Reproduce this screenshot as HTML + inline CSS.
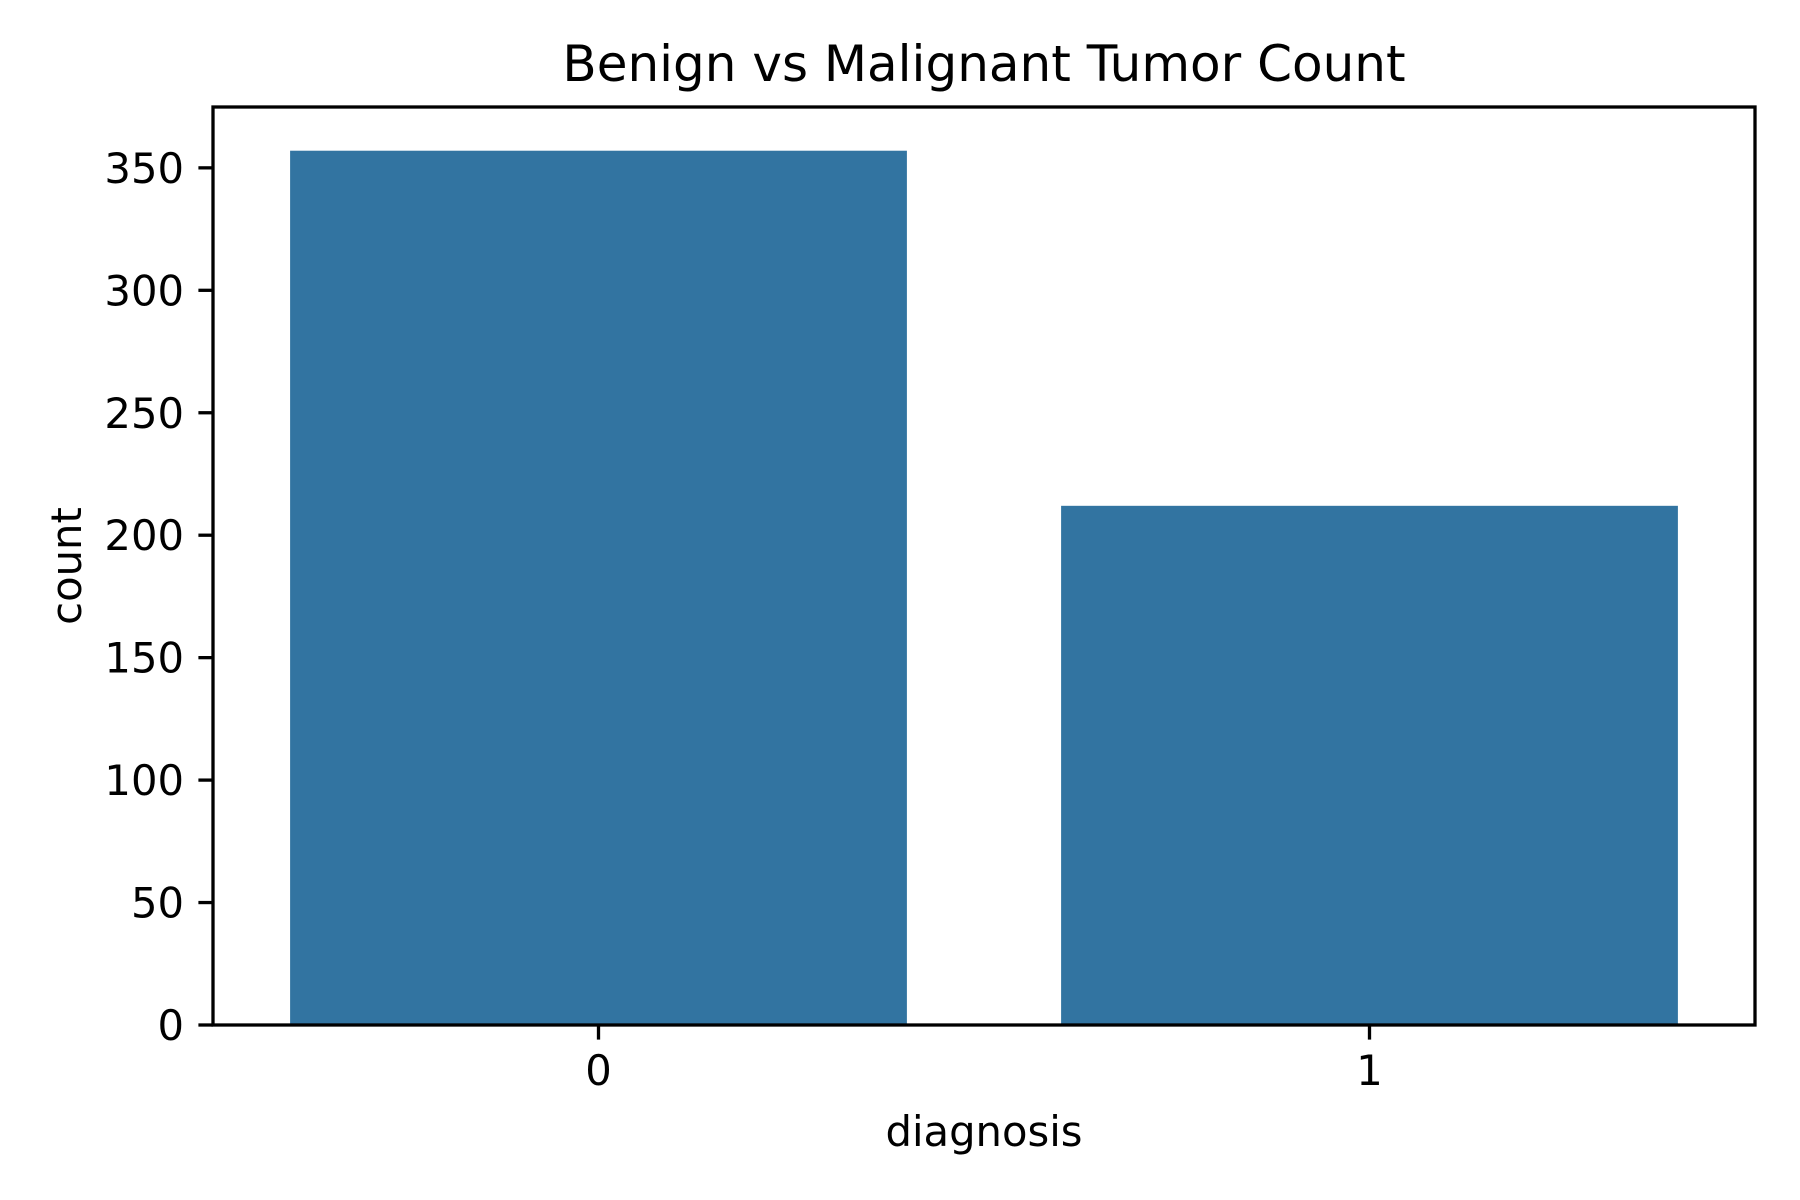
<!DOCTYPE html>
<html><head><meta charset="utf-8"><style>
html,body{margin:0;padding:0;background:#fff;}
svg{display:block;font-family:"DejaVu Sans","Liberation Sans",sans-serif;}
</style></head><body>
<svg id="chart" width="1800" height="1200" viewBox="0 0 1800 1200" xmlns="http://www.w3.org/2000/svg">
<rect width="1800" height="1200" fill="#fff"/>
<text x="984" y="81" font-size="50" text-anchor="middle" fill="#000">Benign vs Malignant Tumor Count</text>
<g id="bars"></g>
<g id="axes"></g>
<text x="984" y="1146" font-size="41.7" text-anchor="middle" fill="#000">diagnosis</text>
<text x="0" y="0" font-size="41.7" text-anchor="middle" dominant-baseline="middle" fill="#000" transform="translate(70,566) rotate(-90)">count</text>
</svg>
<script>
const categories = ["0", "1"];
const counts = [357, 212];
const yTicks = [0, 50, 100, 150, 200, 250, 300, 350];

const L = 213, R = 1755, T = 107, B = 1025;
const yMax = 374.85;
const unit = (R - L) / categories.length;
function xScale(i) { return L + unit * (i + 0.5); }
function yScale(v) { return B - (v / yMax) * (B - T); }
const NS = "http://www.w3.org/2000/svg";
const bars = document.getElementById('bars');
const axes = document.getElementById('axes');
function mk(tag, attrs, parent) {
  const e = document.createElementNS(NS, tag);
  for (const k in attrs) e.setAttribute(k, attrs[k]);
  parent.appendChild(e);
  return e;
}
counts.forEach((v, i) => {
  const w = unit * 0.8;
  const r = mk('rect', {x: xScale(i) - w / 2, y: yScale(v), width: w, height: B - yScale(v), fill: '#3274a1'}, bars);
  
  
});
const frame = mk('rect', {x: L, y: T, width: R - L, height: B - T, fill: 'none', stroke: '#000', 'stroke-width': 3.3}, axes);


yTicks.forEach(t => {
  const y = yScale(t);
  const ln = mk('line', {x1: L - 14.6, x2: L, y1: y, y2: y, stroke: '#000', 'stroke-width': 3.3}, axes);
  
  
  const tx = mk('text', {x: L - 29, y: y + 15, 'font-size': 41.7, 'text-anchor': 'end', fill: '#000'}, axes);
  tx.textContent = t;
  
  
});
categories.forEach((c, i) => {
  const x = xScale(i);
  const ln = mk('line', {x1: x, x2: x, y1: B, y2: B + 14.6, stroke: '#000', 'stroke-width': 3.3}, axes);
  
  
  const tx = mk('text', {x: x, y: 1085, 'font-size': 41.7, 'text-anchor': 'middle', fill: '#000'}, axes);
  tx.textContent = c;
  
  
});
</script>
</body></html>
